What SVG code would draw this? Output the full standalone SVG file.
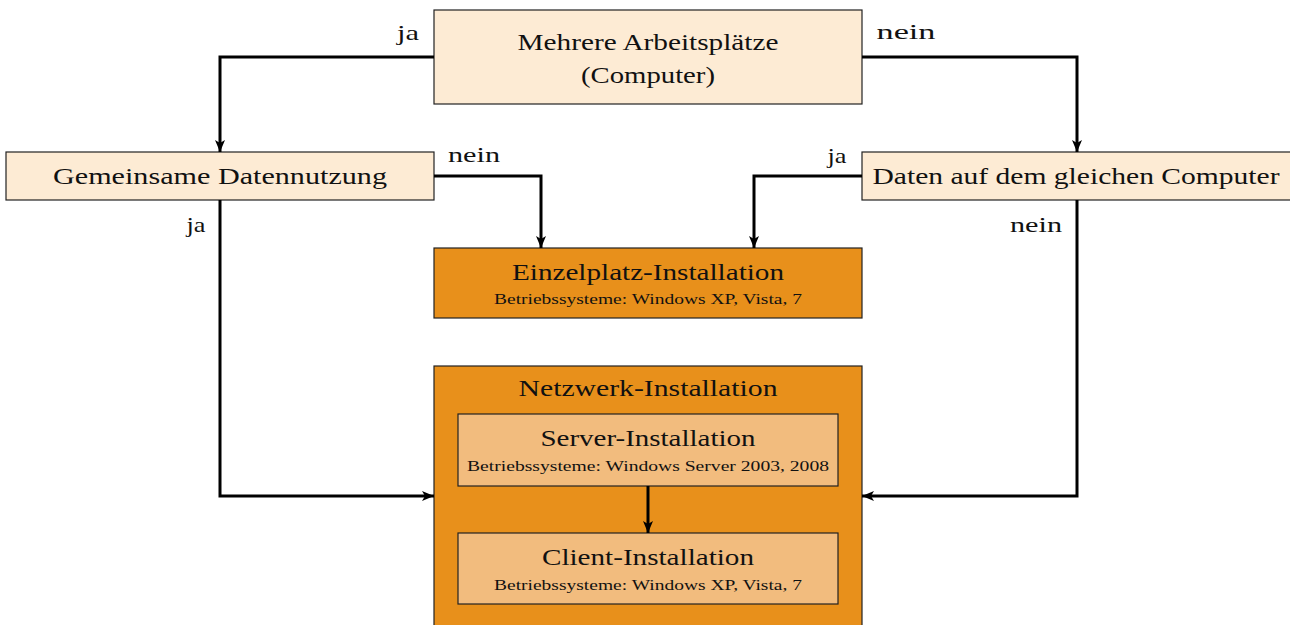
<svg xmlns="http://www.w3.org/2000/svg" width="1290" height="625" viewBox="0 0 1290 625">
<defs>
<marker id="ah" viewBox="0 0 12 10" refX="12" refY="5" markerWidth="12" markerHeight="10" markerUnits="userSpaceOnUse" orient="auto">
<path d="M0,0 L12,5 L0,10 L3,5 Z" fill="#000"/>
</marker>
</defs>
<style>
text{font-family:"Liberation Serif","DejaVu Serif",serif;fill:#111;text-anchor:middle}
.t{font-size:24px}
.s{font-size:15px}
.l{font-size:22px}
.q{fill:#FDEBD4;stroke:#222;stroke-width:1.2}
.o{fill:#E8901B;stroke:#222;stroke-width:1.2}
.i{fill:#F2BC7E;stroke:#222;stroke-width:1.2}
.c{fill:none;stroke:#000;stroke-width:3;marker-end:url(#ah)}
</style>
<rect width="1290" height="625" fill="#fff"/>
<g id="mehrere">
<rect class="q" x="434" y="10" width="428" height="94"/>
<text class="t" x="648" y="50" textLength="261" lengthAdjust="spacingAndGlyphs">Mehrere Arbeitsplätze</text>
<text class="t" x="648" y="83" textLength="134" lengthAdjust="spacingAndGlyphs">(Computer)</text>
</g>
<g id="gemeinsam">
<rect class="q" x="6" y="152" width="428" height="48"/>
<text class="t" x="220" y="184" textLength="334" lengthAdjust="spacingAndGlyphs">Gemeinsame Datennutzung</text>
</g>
<g id="daten">
<rect class="q" x="862" y="152" width="430" height="48"/>
<text class="t" x="1076" y="184" textLength="407" lengthAdjust="spacingAndGlyphs">Daten auf dem gleichen Computer</text>
</g>
<g id="einzelplatz">
<rect class="o" x="434" y="248" width="428" height="70"/>
<text class="t" x="648" y="280" textLength="272" lengthAdjust="spacingAndGlyphs">Einzelplatz-Installation</text>
<text class="s" x="648" y="304" textLength="308" lengthAdjust="spacingAndGlyphs">Betriebssysteme: Windows XP, Vista, 7</text>
</g>
<g id="netzwerk">
<rect class="o" x="434" y="366" width="428" height="270"/>
<text class="t" x="648" y="396" textLength="259" lengthAdjust="spacingAndGlyphs">Netzwerk-Installation</text>
</g>
<g id="server">
<rect class="i" x="458" y="414" width="380" height="72"/>
<text class="t" x="648" y="446" textLength="215" lengthAdjust="spacingAndGlyphs">Server-Installation</text>
<text class="s" x="648" y="471" textLength="362" lengthAdjust="spacingAndGlyphs">Betriebssysteme: Windows Server 2003, 2008</text>
</g>
<g id="client">
<rect class="i" x="458" y="533" width="380" height="71"/>
<text class="t" x="648" y="565" textLength="212" lengthAdjust="spacingAndGlyphs">Client-Installation</text>
<text class="s" x="648" y="590" textLength="308" lengthAdjust="spacingAndGlyphs">Betriebssysteme: Windows XP, Vista, 7</text>
</g>
<g id="connectors">
<path class="c" d="M434,57 H220 V152"/>
<path class="c" d="M862,57 H1077 V152"/>
<path class="c" d="M434,176 H541 V248"/>
<path class="c" d="M862,176 H754 V248"/>
<path class="c" d="M220,200 V496 H434"/>
<path class="c" d="M1077,200 V496 H862"/>
<path class="c" d="M648,486 V533"/>
<text class="l" x="408" y="40" textLength="22" lengthAdjust="spacingAndGlyphs">ja</text>
<text class="l" x="906" y="39" textLength="59" lengthAdjust="spacingAndGlyphs">nein</text>
<text class="l" x="474" y="162" textLength="52" lengthAdjust="spacingAndGlyphs">nein</text>
<text class="l" x="837" y="163" textLength="19" lengthAdjust="spacingAndGlyphs">ja</text>
<text class="l" x="196" y="232" textLength="19" lengthAdjust="spacingAndGlyphs">ja</text>
<text class="l" x="1036" y="232" textLength="52" lengthAdjust="spacingAndGlyphs">nein</text>
</g>
</svg>
